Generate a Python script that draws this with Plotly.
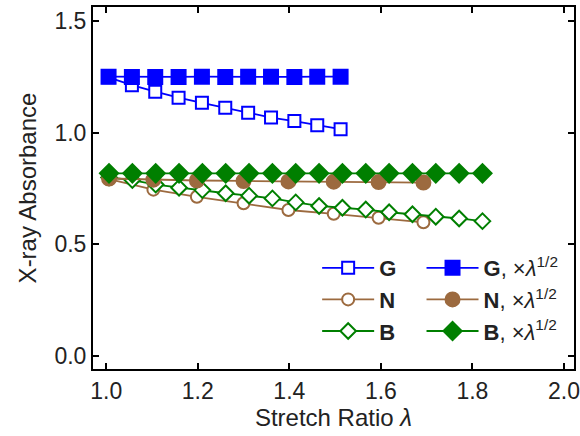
import plotly.graph_objects as go

# ---- data ----
x_g = [1.005, 1.056, 1.107, 1.158, 1.209, 1.260, 1.310, 1.360, 1.411, 1.461, 1.512]
g_raw = [1.248, 1.213, 1.184, 1.157, 1.134, 1.112, 1.090, 1.068, 1.052, 1.034, 1.016]
g_scaled = [1.251, 1.250, 1.250, 1.250, 1.251, 1.250, 1.251, 1.251, 1.250, 1.251, 1.251]

x_n = [1.006, 1.103, 1.198, 1.300, 1.398, 1.497, 1.595, 1.693]
n_raw = [0.792, 0.745, 0.713, 0.684, 0.654, 0.637, 0.619, 0.599]
n_scaled = [0.795, 0.790, 0.786, 0.784, 0.782, 0.781, 0.779, 0.777]

x_b = [1.006, 1.057, 1.108, 1.159, 1.210, 1.261, 1.312, 1.363, 1.414,
       1.465, 1.516, 1.567, 1.618, 1.669, 1.720, 1.771, 1.822]
b_raw = [0.800, 0.788, 0.768, 0.754, 0.743, 0.729, 0.718, 0.706, 0.688,
         0.672, 0.664, 0.656, 0.644, 0.635, 0.624, 0.616, 0.604]
b_scaled = [0.818, 0.818, 0.818, 0.818, 0.818, 0.818, 0.818, 0.818, 0.818,
            0.818, 0.818, 0.818, 0.818, 0.818, 0.818, 0.818, 0.818]

x_ticks = [1.0, 1.2, 1.4, 1.6, 1.8, 2.0]
y_ticks = [0.0, 0.5, 1.0, 1.5]

BLUE = "#0000FF"
BROWN = "#9C6A3F"
GREEN = "#007F00"
FONT = "Liberation Sans, Arial, sans-serif"

fig = go.Figure()

def add(x, y, name, color, symbol, filled, legend, rank):
    fig.add_trace(go.Scatter(
        x=x, y=y, name=name, mode="lines+markers",
        line=dict(color=color, width=1.8),
        marker=dict(symbol=symbol,
                    size=14 if filled else 12,
                    color=color if filled else "white",
                    line=dict(color=color, width=2)),
        legend=legend, legendrank=rank,
    ))

# draw order: open first, filled on top
add(x_n, n_raw, "<b>N</b>", BROWN, "circle", False, "legend", 2)
add(x_b, b_raw, "<b>B</b>", GREEN, "diamond", False, "legend", 3)
add(x_g, g_raw, "<b>G</b>", BLUE, "square", False, "legend", 1)
add(x_n, n_scaled, "<b>N</b>, ×<i>λ</i><sup>1/2</sup>", BROWN, "circle", True, "legend2", 2)
add(x_b, b_scaled, "<b>B</b>, ×<i>λ</i><sup>1/2</sup>", GREEN, "diamond", True, "legend2", 3)
add(x_g, g_scaled, "<b>G</b>, ×<i>λ</i><sup>1/2</sup>", BLUE, "square", True, "legend2", 1)

axis_common = dict(
    showline=True, linecolor="black", linewidth=2, mirror="ticks",
    ticks="inside", ticklen=6, tickwidth=1.5, tickcolor="black",
    showgrid=False, zeroline=False, automargin=False,
    tickfont=dict(size=23, color="#222"),
)

fig.update_layout(
    width=580, height=436,
    margin=dict(l=93, r=6, t=7, b=67, autoexpand=False),
    paper_bgcolor="white", plot_bgcolor="white",
    font=dict(family=FONT, color="#222"),
    showlegend=True,
    xaxis=dict(range=[0.971, 2.022], tickvals=x_ticks,
               ticktext=[f"{v:.1f}" for v in x_ticks],
               title=dict(text="Stretch Ratio <i>λ</i>", font=dict(size=24), standoff=0),
               **axis_common),
    yaxis=dict(range=[-0.058, 1.563], tickvals=y_ticks,
               ticktext=[f"{v:.1f}" for v in y_ticks],
               title=dict(text="X-ray Absorbance", font=dict(size=24), standoff=11),
               **axis_common),
    legend=dict(x=0.466, y=0.337, xanchor="left", yanchor="top",
                bgcolor="rgba(0,0,0,0)", font=dict(size=22),
                itemwidth=52),
    legend2=dict(x=0.683, y=0.337, xanchor="left", yanchor="top",
                 bgcolor="rgba(0,0,0,0)", font=dict(size=22),
                 itemwidth=52),
)

fig.write_html("out.html", config={"displayModeBar": False},
               post_script="document.body.style.margin='0';document.body.style.overflow='hidden';")
